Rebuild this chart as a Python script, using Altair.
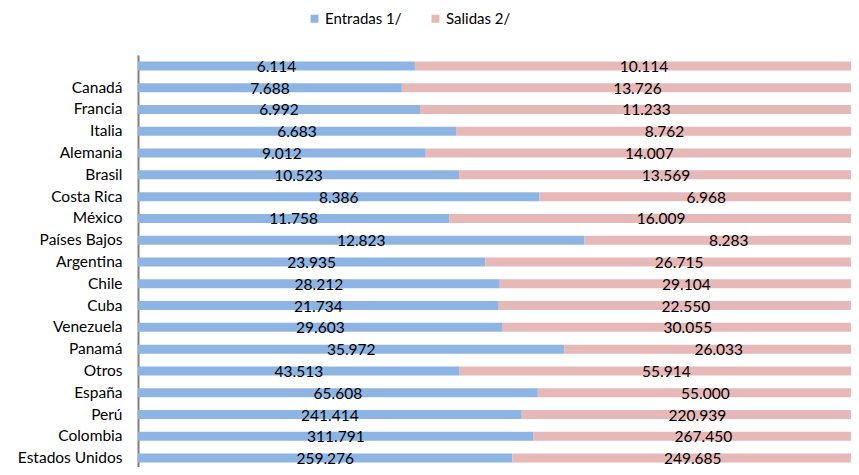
import altair as alt
import pandas as pd

paises = [" ", "Canadá", "Francia", "Italia", "Alemania", "Brasil", "Costa Rica",
          "México", "Países Bajos", "Argentina", "Chile", "Cuba", "Venezuela",
          "Panamá", "Otros", "España", "Perú", "Colombia", "Estados Unidos"]
entradas = [6114, 7688, 6992, 6683, 9012, 10523, 8386, 11758, 12823, 23935,
            28212, 21734, 29603, 35972, 43513, 65608, 241414, 311791, 259276]
salidas = [10114, 13726, 11233, 8762, 14007, 13569, 6968, 16009, 8283, 26715,
           29104, 22550, 30055, 26033, 55914, 55000, 220939, 267450, 249685]
series = ["Entradas 1/", "Salidas 2/"]
colores = ["#8DB4E2", "#E6B9B8"]

rows = []
for i, p in enumerate(paises):
    rows.append({"pais": p, "serie": series[0], "orden": 0, "valor": entradas[i]})
    rows.append({"pais": p, "serie": series[1], "orden": 1, "valor": salidas[i]})
df = pd.DataFrame(rows)

FONT = "Lato"
PLOT_W = 713
FULL_W = 735

base = (
    alt.Chart(df)
    .transform_joinaggregate(total="sum(valor)", groupby=["pais"])
    .transform_window(acum="sum(valor)", groupby=["pais"],
                      sort=[alt.SortField("orden")], frame=[None, 0])
    .transform_calculate(
        inicio="(datum.acum - datum.valor) / datum.total",
        fin="datum.acum / datum.total",
        medio="(2 * datum.acum - datum.valor) / (2 * datum.total)",
        etiqueta="replace(format(datum.valor, ',d'), ',', '.')",
    )
)

yenc = alt.Y(
    "pais:N", sort=paises,
    scale=alt.Scale(paddingInner=0, paddingOuter=0, range=[0, 414]),
    axis=alt.Axis(title=None, ticks=False, domainColor="#808080", domainWidth=2,
                  labelFont=FONT, labelFontSize=15.5, labelColor="#000000",
                  labelPadding=16),
)
xscale = alt.Scale(domain=[0, PLOT_W / FULL_W], nice=False, zero=False)

bars = base.mark_bar(size=9, clip=True).encode(
    x=alt.X("inicio:Q", scale=xscale, axis=None),
    x2="fin:Q",
    y=yenc,
    color=alt.Color(
        "serie:N",
        scale=alt.Scale(domain=series, range=colores),
        legend=alt.Legend(
            title=None, orient="none", direction="horizontal",
            legendX=169, legendY=-44, symbolType="square", symbolSize=64,
            symbolStrokeWidth=0, labelFont=FONT, labelFontSize=15,
            labelColor="#000000", labelOffset=3, columnPadding=26,
        ),
    ),
)

texts = base.mark_text(font=FONT, fontSize=15.5, dy=1, color="#000000").encode(
    x=alt.X("medio:Q", scale=xscale, axis=None),
    y=yenc,
    text="etiqueta:N",
)

chart = (
    alt.layer(bars, texts)
    .properties(width=PLOT_W, height=412,
                padding={"left": 130, "top": 47, "right": 0, "bottom": 0},
                autosize=alt.AutoSizeParams(type="none"))
    .configure_view(stroke=None)
)

chart.save("out.html", embed_options={"renderer": "svg", "actions": False})
